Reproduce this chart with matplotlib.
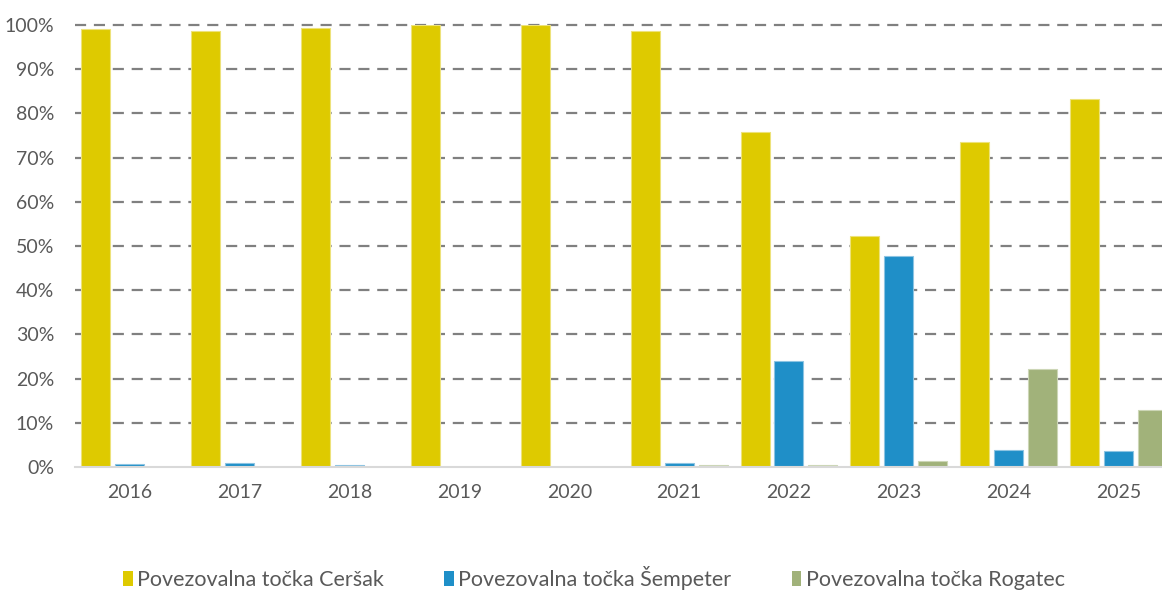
import numpy as np
import matplotlib
matplotlib.use("Agg")
import matplotlib.pyplot as plt
from matplotlib.patches import Patch
from matplotlib.ticker import FuncFormatter

plt.rcParams["font.family"] = ["Lato", "DejaVu Sans"]

# podatki (delež, %)
years = ["2016", "2017", "2018", "2019", "2020", "2021", "2022", "2023", "2024", "2025"]
cersak = [99.1, 98.6, 99.3, 100.0, 100.0, 98.6, 75.8, 52.2, 73.6, 83.2]
sempeter = [0.7, 1.0, 0.4, 0.0, 0.0, 1.0, 24.0, 47.7, 3.8, 3.6]
rogatec = [0.0, 0.0, 0.0, 0.0, 0.0, 0.4, 0.5, 1.4, 22.2, 12.9]
series_names = ["Povezovalna točka Ceršak", "Povezovalna točka Šempeter", "Povezovalna točka Rogatec"]

COLORS = ["#DECA00", "#1F8FC8", "#A1B27A"]
EDGES = ["#EDE27A", "#8CC4E2", "#CCD6B6"]

W, H = 1162, 590
fig = plt.figure(figsize=(W / 100, H / 100), dpi=100)
ax = fig.add_axes([75 / W, 1 - 467 / H, 1 - 75 / W, (467 - 25) / H])

x = np.arange(len(years))
bar_w = 0.264
step = 0.309
for i, vals in enumerate([cersak, sempeter, rogatec]):
    ax.bar(x + (i - 1) * step, vals, width=bar_w, color=COLORS[i],
           edgecolor=EDGES[i], linewidth=0.8, zorder=3)

ax.set_xlim(-0.5, 9.396)
ax.set_ylim(0, 100)
ax.set_yticks(np.arange(0, 101, 10))
ax.yaxis.set_major_formatter(FuncFormatter(lambda v, _: f"{int(v)}%"))
ax.set_xticks(x)
ax.set_xticklabels(years)

# mreža
for v in range(10, 101, 10):
    ax.axhline(v, color="#808080", linestyle=(0, (5, 3.5)), linewidth=1.6,
               zorder=1, clip_on=False)

for s in ["top", "right", "left"]:
    ax.spines[s].set_visible(False)
ax.spines["bottom"].set_color("#D9D9D9")
ax.spines["bottom"].set_linewidth(1.5)
ax.spines["bottom"].set_zorder(4)
ax.tick_params(axis="both", length=0, labelsize=14, colors="#595959")
ax.tick_params(axis="y", pad=15)
ax.tick_params(axis="x", pad=12)

handles = [Patch(facecolor=c, edgecolor="none") for c in COLORS]
fig.legend(handles, series_names, loc="center", bbox_to_anchor=(0.511, 1 - 578 / H),
           ncol=3, frameon=False, fontsize=15.5, handlelength=0.45, handleheight=0.7,
           handletextpad=0.2, columnspacing=2.8, labelcolor="#595959")

fig.savefig("out.png", dpi=100)
